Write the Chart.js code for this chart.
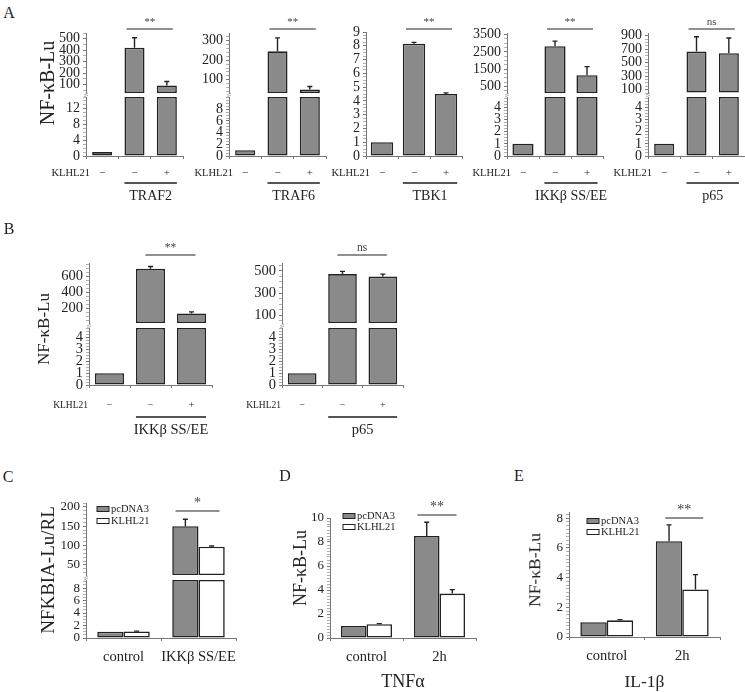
<!DOCTYPE html>
<html>
<head>
<meta charset="utf-8">
<script src="https://cdn.jsdelivr.net/npm/chart.js@4.4.1/dist/chart.umd.min.js"></script>
<style>
  body {
    margin: 0;
    width: 745px;
    height: 692px;
    position: relative;
    overflow: hidden;
    background: #fff;
    color: #222;
    font-family: "Liberation Serif", serif;
  }
  canvas { position: absolute; }
  .lbl {
    position: absolute;
    white-space: nowrap;
    line-height: 1;
    transform: translate(-50%, -50%);
  }
  .rot { transform: translate(-50%, -50%) rotate(-90deg); }
</style>
</head>
<body>
<script>
// ---- data ----
const klhl21Row = ["\u2212", "\u2212", "+"];

// panel A
const traf2Values = [1, 421, 91];
const traf2Errors = [0, 88, 35];
const traf6Values = [1, 245, 51];
const traf6Errors = [0, 68, 15];
const tbk1Values = [1, 8.15, 4.5];
const tbk1Errors = [0, 0.1, 0.08];
const ikkValuesA = [1, 2830, 1150];
const ikkErrorsA = [0, 290, 500];
const p65ValuesA = [1, 665, 640];
const p65ErrorsA = [0, 220, 225];
const groupNamesA = ["TRAF2", "TRAF6", "TBK1", "IKK\u03b2 SS/EE", "p65"];
const sigA = ["**", "**", "**", "**", "ns"];

// panel B
const ikkValuesB = [1, 697, 137];
const ikkErrorsB = [0, 30, 20];
const p65ValuesB = [1, 470, 448];
const p65ErrorsB = [0, 25, 22];
const groupNamesB = ["IKK\u03b2 SS/EE", "p65"];
const sigB = ["**", "ns"];

// panels C, D, E
const seriesNames = ["pcDNA3", "KLHL21"];
const categoriesC = ["control", "IKK\u03b2 SS/EE"];
const pcdna3C = [1, 150];
const pcdna3ErrC = [0, 18];
const klhl21C = [1.05, 97];
const klhl21ErrC = [0.05, 2];
const categoriesDE = ["control", "2h"];
const pcdna3D = [1, 8.5];
const pcdna3ErrD = [0, 1.15];
const klhl21D = [1.15, 3.7];
const klhl21ErrD = [0.05, 0.33];
const pcdna3E = [1, 6.45];
const pcdna3ErrE = [0, 1.1];
const klhl21E = [1.12, 3.2];
const klhl21ErrE = [0.05, 1.0];

// tick labels
const traf2TicksHi = [100, 200, 300, 400, 500];
const traf2TicksLo = [0, 4, 8, 12];
const traf6TicksHi = [100, 200, 300];
const traf6TicksLo = [0, 2, 4, 6, 8];
const tbk1Ticks = [0, 1, 2, 3, 4, 5, 6, 7, 8, 9];
const ikkTicksHiA = [500, 1500, 2500, 3500];
const p65TicksHiA = [100, 300, 500, 700, 900];
const smallTicksLo = [0, 1, 2, 3, 4];
const ikkTicksHiB = [200, 400, 600];
const p65TicksHiB = [100, 300, 500];
const nfkbiaTicksHi = [50, 100, 150, 200];
const nfkbiaTicksLo = [0, 2, 4, 6, 8];
const tnfTicks = [0, 2, 4, 6, 8, 10];
const il1Ticks = [0, 2, 4, 6, 8];

// ---- look ----
const FONT = "Liberation Serif";
const INK = "#222";
const AXIS = "#777";
const GREY = "#8a8a8a";
const WHITE = "#ffffff";

// error bars (upward only, small cap)
const errorBars = {
  id: "errorBars",
  afterDatasetsDraw(chart) {
    const ctx = chart.ctx;
    const y = chart.scales.y;
    chart.data.datasets.forEach((ds, di) => {
      if (!ds.errors) return;
      chart.getDatasetMeta(di).data.forEach((bar, i) => {
        const v = ds.raw[i];
        const e = ds.errors[i];
        if (!e || v < y.min || v > y.max) return;
        const y0 = y.getPixelForValue(v);
        const y1 = y.getPixelForValue(v + e);
        ctx.save();
        ctx.strokeStyle = INK;
        ctx.lineWidth = 1.4;
        ctx.beginPath();
        ctx.moveTo(bar.x, y0);
        ctx.lineTo(bar.x, y1);
        ctx.moveTo(bar.x - 2.5, y1);
        ctx.lineTo(bar.x + 2.5, y1);
        ctx.stroke();
        ctx.restore();
      });
    });
  },
};

// significance bracket above the compared bars
const sigBar = {
  id: "sigBar",
  afterDraw(chart, args, o) {
    if (!o.text) return;
    const { ctx, chartArea } = chart;
    const x = chart.scales.x;
    const x1 = x.getPixelForValue(o.from) + o.dx1;
    const x2 = x.getPixelForValue(o.to) + o.dx2;
    const yy = chartArea.top + o.dy;
    ctx.save();
    ctx.strokeStyle = INK;
    ctx.lineWidth = 1.2;
    ctx.beginPath();
    ctx.moveTo(x1, yy);
    ctx.lineTo(x2, yy);
    ctx.stroke();
    ctx.fillStyle = "#444";
    ctx.font = o.size + "px " + FONT;
    ctx.textAlign = "center";
    ctx.textBaseline = "bottom";
    ctx.fillText(o.text, (x1 + x2) / 2, yy - 1);
    ctx.restore();
  },
};

// KLHL21 row label, underline and construct name below bars 2-3
const groupLabel = {
  id: "groupLabel",
  afterDraw(chart, args, o) {
    if (!o.name) return;
    const { ctx, chartArea } = chart;
    const bars = chart.getDatasetMeta(0).data;
    const l = bars[1].x - bars[1].width / 2;
    const r = bars[2].x + bars[2].width / 2;
    ctx.save();
    ctx.fillStyle = INK;
    ctx.font = o.rowSize + "px " + FONT;
    ctx.textAlign = "right";
    ctx.textBaseline = "middle";
    ctx.fillText("KLHL21", chartArea.left + o.rowDx, chartArea.bottom + o.rowDy);
    ctx.strokeStyle = "#555";
    ctx.lineWidth = 2;
    ctx.beginPath();
    ctx.moveTo(l, chartArea.bottom + o.lineDy);
    ctx.lineTo(r, chartArea.bottom + o.lineDy);
    ctx.stroke();
    ctx.font = o.nameSize + "px " + FONT;
    ctx.textAlign = "center";
    ctx.fillText(o.name, (l + r) / 2, chartArea.bottom + o.nameDy);
    ctx.restore();
  },
};

// little boxed legend inside the plot
const boxLegend = {
  id: "boxLegend",
  afterDraw(chart, args, o) {
    if (!o.show) return;
    const { ctx, chartArea } = chart;
    chart.data.datasets.forEach((ds, i) => {
      const x = chartArea.left + o.dx;
      const y = chartArea.top + o.dy + i * o.step;
      ctx.save();
      ctx.fillStyle = ds.backgroundColor;
      ctx.fillRect(x, y - 2.5, 12, 5);
      ctx.strokeStyle = INK;
      ctx.lineWidth = 1;
      ctx.strokeRect(x, y - 2.5, 12, 5);
      ctx.fillStyle = INK;
      ctx.font = o.size + "px " + FONT;
      ctx.textBaseline = "middle";
      ctx.fillText(ds.label, x + 14, y);
      ctx.restore();
    });
  },
};

// axis break mark
const breakMark = {
  id: "breakMark",
  afterDraw(chart, args, o) {
    if (!o.show) return;
    const { ctx, chartArea } = chart;
    const x = chartArea.left;
    const y = chartArea.top - 2;
    ctx.save();
    ctx.strokeStyle = "#999";
    ctx.lineWidth = 0.8;
    ctx.beginPath();
    ctx.moveTo(x - 2, y);
    ctx.lineTo(x + 2, y - 2);
    ctx.moveTo(x - 2, y + 2);
    ctx.lineTo(x + 2, y);
    ctx.stroke();
    ctx.restore();
  },
};

Chart.register(errorBars, sigBar, groupLabel, boxLegend, breakMark);

function tickList(major, minorStep, min, max) {
  const out = major.map((v) => ({ value: v }));
  if (minorStep) {
    for (let k = Math.ceil(min / minorStep); k * minorStep <= max + 1e-9; k++) {
      const v = k * minorStep;
      if (!major.some((m) => Math.abs(m - v) < 1e-6)) out.push({ value: v, minor: true });
    }
  }
  return out.sort((a, b) => a.value - b.value);
}

function bars(s, part, lim, catPct) {
  let data = s.values;
  if (part === "hi") data = s.values.map((v) => (v > lim ? v : null));
  if (part === "lo") data = s.values.map((v) => Math.min(v, lim));
  const d = {
    label: s.label,
    data: data,
    raw: s.values,
    errors: s.errors,
    backgroundColor: s.fill,
    borderColor: INK,
    borderWidth: 1.6,
    borderSkipped: false,
    categoryPercentage: catPct,
    barPercentage: 1,
  };
  if (part === "hi") d.base = lim;
  return d;
}

// one Chart.js canvas whose plot area lands on (x, y, w, h) of the page
function makeChart(o) {
  const W = Math.round(o.yw + o.w + o.pr);
  const H = Math.round(o.pt + o.h + o.xh + o.pb);
  const cv = document.createElement("canvas");
  cv.width = W;
  cv.height = H;
  cv.style.left = o.x - o.yw + "px";
  cv.style.top = o.y - o.pt + "px";
  cv.style.width = W + "px";
  cv.style.height = H + "px";
  document.body.appendChild(cv);

  return new Chart(cv, {
    type: "bar",
    data: { labels: o.labels, datasets: o.datasets },
    options: {
      responsive: false,
      animation: false,
      devicePixelRatio: 1,
      layout: {
        padding: { left: 0, top: o.pt, right: W - o.yw - o.w, bottom: H - o.pt - o.h - o.xh },
      },
      plugins: {
        legend: { display: false },
        tooltip: { enabled: false },
        sigBar: o.sig || {},
        groupLabel: o.group || {},
        boxLegend: o.legend || {},
        breakMark: { show: !!o.brk },
      },
      scales: {
        x: {
          display: o.xShow,
          grid: { offset: true, drawOnChartArea: false, tickLength: 3, color: AXIS },
          border: { color: AXIS },
          ticks: {
            autoSkip: false,
            maxRotation: 0,
            padding: o.xTickPad || 0,
            color: INK,
            font: { family: FONT, size: o.xTickSize || 11 },
          },
          title: {
            display: !!o.xTitle,
            text: o.xTitle || "",
            color: INK,
            padding: 0,
            font: { family: FONT, size: o.xTitleSize || 16 },
          },
          afterFit: (s) => {
            s.height = o.xh;
            s.paddingLeft = 0;
            s.paddingRight = 0;
          },
        },
        y: {
          min: o.yMin,
          max: o.yMax,
          afterBuildTicks: (s) => {
            s.ticks = tickList(o.yTicks, o.minor, o.yMin, o.yMax);
          },
          afterFit: (s) => {
            s.width = o.yw;
            s.paddingTop = 0;
            s.paddingBottom = 0;
          },
          grid: {
            drawOnChartArea: false,
            tickLength: 3,
            tickColor: (c) => (c.tick && c.tick.minor ? "#b0b0b0" : AXIS),
          },
          border: { color: AXIS },
          ticks: {
            autoSkip: false,
            padding: 3,
            color: INK,
            font: { family: FONT, size: o.tickSize },
            callback: (v, i, t) => (t[i].minor ? "" : String(v)),
          },
        },
      },
    },
  });
}

// two stacked charts sharing the x positions: upper range and lower range
function brokenPanel(p) {
  makeChart({
    x: p.x, w: p.w, y: p.hi.y, h: p.hi.h, yw: p.yw, pt: p.hi.pt, pr: 6, pb: 3, xh: 0,
    xShow: false, labels: p.labels,
    datasets: p.series.map((s) => bars(s, "hi", p.hi.min, p.catPct)),
    yMin: p.hi.min, yMax: p.hi.max, yTicks: p.hi.ticks, minor: p.hi.minor,
    tickSize: p.tickSize, sig: p.sig, legend: p.legend,
  });
  makeChart({
    x: p.x, w: p.w, y: p.lo.y, h: p.lo.h, yw: p.yw, pt: 5, pr: 6, pb: p.pb, xh: p.xh,
    xShow: true, labels: p.labels, xTickSize: p.xTickSize, xTickPad: p.xTickPad,
    datasets: p.series.map((s) => bars(s, "lo", p.lo.max, p.catPct)),
    yMin: 0, yMax: p.lo.max, yTicks: p.lo.ticks, minor: p.lo.minor,
    tickSize: p.tickSize, group: p.group, brk: true,
  });
}

function label(text, x, y, size, rotate) {
  const d = document.createElement("div");
  d.className = rotate ? "lbl rot" : "lbl";
  d.textContent = text;
  d.style.left = x + "px";
  d.style.top = y + "px";
  d.style.fontSize = size + "px";
  document.body.appendChild(d);
}

// ---- panel A ----
const aGroup = (name) => ({ name, rowSize: 10.5, rowDx: 4, rowDy: 17, lineDy: 27, nameDy: 40, nameSize: 14 });
const aSig = (text) => ({ text, from: 1, to: 2, dx1: -8, dx2: 6, dy: -4, size: 11 });
const A_HI = { y: 33, h: 60, pt: 33 };
const A_LO = { y: 97, h: 59 };
const aBase = { yw: 40, labels: klhl21Row, catPct: 0.62, tickSize: 14, xh: 20, pb: 40, xTickSize: 11, xTickPad: 7.4 };

brokenPanel({
  ...aBase, x: 86, w: 97,
  series: [{ label: "NF-\u03baB-Lu", values: traf2Values, errors: traf2Errors, fill: GREY }],
  hi: { ...A_HI, min: 25, max: 550, ticks: traf2TicksHi, minor: 50 },
  lo: { ...A_LO, max: 15, ticks: traf2TicksLo, minor: 1 },
  sig: aSig(sigA[0]), group: aGroup(groupNamesA[0]),
});
brokenPanel({
  ...aBase, x: 229, w: 97,
  series: [{ label: "NF-\u03baB-Lu", values: traf6Values, errors: traf6Errors, fill: GREY }],
  hi: { ...A_HI, min: 33, max: 338, ticks: traf6TicksHi, minor: 20 },
  lo: { ...A_LO, max: 10.1, ticks: traf6TicksLo, minor: 0.5 },
  sig: aSig(sigA[1]), group: aGroup(groupNamesA[1]),
});
makeChart({
  x: 366, w: 96, y: 32, h: 124, yw: 40, pt: 32, pr: 6, pb: 40, xh: 20,
  xShow: true, labels: klhl21Row, xTickSize: 11, xTickPad: 7.4,
  datasets: [bars({ label: "NF-\u03baB-Lu", values: tbk1Values, errors: tbk1Errors, fill: GREY }, "all", 0, 0.7)],
  yMin: 0, yMax: 9, yTicks: tbk1Ticks, minor: 0.25, tickSize: 14,
  sig: { ...aSig(sigA[2]), dy: -3 }, group: aGroup(groupNamesA[2]),
});
brokenPanel({
  ...aBase, x: 507, w: 96, catPct: 0.66,
  series: [{ label: "NF-\u03baB-Lu", values: ikkValuesA, errors: ikkErrorsA, fill: GREY }],
  hi: { ...A_HI, min: 125, max: 3590, ticks: ikkTicksHiA, minor: 250 },
  lo: { ...A_LO, max: 4.85, ticks: smallTicksLo, minor: 0.25 },
  sig: aSig(sigA[3]), group: aGroup(groupNamesA[3]),
});
brokenPanel({
  ...aBase, x: 648, w: 97,
  series: [{ label: "NF-\u03baB-Lu", values: p65ValuesA, errors: p65ErrorsA, fill: GREY }],
  hi: { ...A_HI, min: 50, max: 940, ticks: p65TicksHiA, minor: 50 },
  lo: { ...A_LO, max: 4.85, ticks: smallTicksLo, minor: 0.25 },
  sig: aSig(sigA[4]), group: aGroup(groupNamesA[4]),
});

// ---- panel B ----
const bGroup = (name) => ({ name, rowSize: 9.5, rowDx: -1, rowDy: 20, lineDy: 32, nameDy: 45, nameSize: 14.5 });
const bSig = (text) => ({ text, from: 1, to: 2, dx1: -5, dx2: 4, dy: -8, size: 11.5 });
const B_HI = { y: 263, h: 60, pt: 25 };
const B_LO = { y: 328, h: 57 };
const bBase = { yw: 40, labels: klhl21Row, catPct: 0.71, tickSize: 14.5, xh: 22, pb: 45, xTickSize: 10, xTickPad: 11 };

brokenPanel({
  ...bBase, x: 89, w: 123,
  series: [{ label: "NF-\u03baB-Lu", values: ikkValuesB, errors: ikkErrorsB, fill: GREY }],
  hi: { ...B_HI, min: 18, max: 770, ticks: ikkTicksHiB, minor: 50 },
  lo: { ...B_LO, max: 4.8, ticks: smallTicksLo, minor: 0.25 },
  sig: bSig(sigB[0]), group: bGroup(groupNamesB[0]),
});
brokenPanel({
  ...bBase, x: 282, w: 121,
  series: [{ label: "NF-\u03baB-Lu", values: p65ValuesB, errors: p65ErrorsB, fill: GREY }],
  hi: { ...B_HI, min: 30, max: 570, ticks: p65TicksHiB, minor: 50 },
  lo: { ...B_LO, max: 4.8, ticks: smallTicksLo, minor: 0.25 },
  sig: bSig(sigB[1]), group: bGroup(groupNamesB[1]),
});

// ---- panel C ----
brokenPanel({
  x: 86, w: 150, yw: 40, labels: categoriesC, catPct: 0.7, tickSize: 13,
  xh: 30, pb: 10, xTickSize: 14.5, xTickPad: 7,
  series: [
    { label: seriesNames[0], values: pcdna3C, errors: pcdna3ErrC, fill: GREY },
    { label: seriesNames[1], values: klhl21C, errors: klhl21ErrC, fill: WHITE },
  ],
  hi: { y: 503, h: 72, pt: 22, min: 24, max: 210, ticks: nfkbiaTicksHi, minor: 10 },
  lo: { y: 580, h: 58, max: 9.3, ticks: nfkbiaTicksLo, minor: 0.5 },
  sig: { text: "*", from: 1, to: 1, dx1: -23, dx2: 21, dy: 8, size: 14 },
  legend: { show: true, dx: 11, dy: 6, step: 12, size: 10.5 },
});

// ---- panels D and E ----
function timePanel(o) {
  makeChart({
    x: o.x, w: o.w, y: o.y, h: o.h, yw: 40, pt: 25, pr: 6, pb: 5, xh: o.xh,
    xShow: true, labels: categoriesDE, xTickSize: 14.5, xTickPad: 7,
    xTitle: o.title, xTitleSize: o.titleSize,
    datasets: [
      bars({ label: seriesNames[0], values: o.pc, errors: o.pcErr, fill: GREY }, "all", 0, 0.7),
      bars({ label: seriesNames[1], values: o.kl, errors: o.klErr, fill: WHITE }, "all", 0, 0.7),
    ],
    yMin: 0, yMax: o.max, yTicks: o.ticks, minor: 0.25, tickSize: 13,
    sig: o.sig, legend: o.legend,
  });
}

timePanel({
  x: 330, w: 146, y: 518, h: 120, xh: 55, max: 10, ticks: tnfTicks,
  pc: pcdna3D, pcErr: pcdna3ErrD, kl: klhl21D, klErr: klhl21ErrD,
  title: "TNF\u03b1", titleSize: 18,
  sig: { text: "**", from: 1, to: 1, dx1: -22, dx2: 17, dy: -3, size: 14 },
  legend: { show: true, dx: 13, dy: -2, step: 11, size: 10.5 },
});
timePanel({
  x: 569, w: 151, y: 512, h: 125, xh: 56, max: 8.42, ticks: il1Ticks,
  pc: pcdna3E, pcErr: pcdna3ErrE, kl: klhl21E, klErr: klhl21ErrE,
  title: "IL-1\u03b2", titleSize: 17.5,
  sig: { text: "**", from: 1, to: 1, dx1: -17, dx2: 21, dy: 6, size: 14 },
  legend: { show: true, dx: 18, dy: 9, step: 11, size: 10.5 },
});

// ---- panel letters and y titles ----
label("A", 9, 13, 16);
label("B", 9, 229, 16);
label("C", 8, 477, 16);
label("D", 285, 476, 16);
label("E", 519, 476, 16);
label("NF-\u03baB-Lu", 47, 83, 20, true);
label("NF-\u03baB-Lu", 43, 329, 17, true);
label("NFKBIA-Lu/RL", 47, 570, 19, true);
label("NF-\u03baB-Lu", 300, 568, 18, true);
label("NF-\u03baB-Lu", 535, 570, 17.5, true);
</script>
</body>
</html>
